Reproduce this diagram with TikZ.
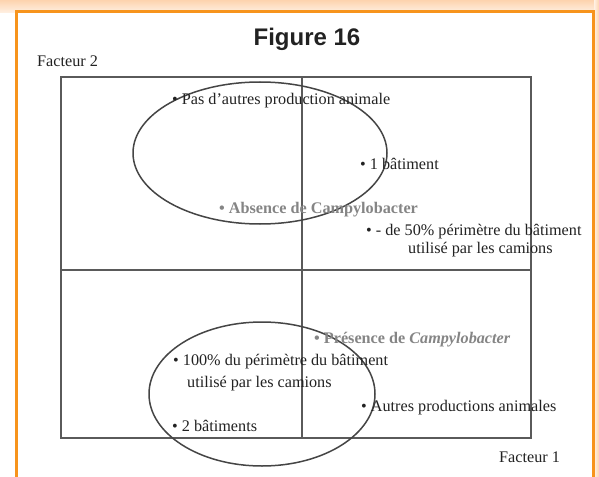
\documentclass[tikz,border=0pt]{standalone}
\usepackage{fontspec}
\setmainfont{Liberation Serif}
\newfontfamily\arialf{Liberation Sans}
\definecolor{frameorange}{HTML}{F7941D}
\definecolor{peach}{HTML}{FDD3AE}
\definecolor{peachlight}{HTML}{FFF1E4}
\definecolor{axisgray}{HTML}{5A5A5A}
\definecolor{ellgray}{HTML}{454545}
\definecolor{lblgray}{HTML}{858585}
\definecolor{txt}{HTML}{222222}
\usetikzlibrary{shapes.geometric}
\begin{document}
\begin{tikzpicture}[x=1pt,y=-1pt,
  lbl/.style={anchor=base west, inner sep=0pt, text=txt, font=\fontsize{16.2}{19}\selectfont},
  glbl/.style={anchor=base west, inner sep=0pt, text=lblgray, font=\fontsize{16.2}{19}\selectfont\bfseries},
  axisline/.style={draw=axisgray, line width=1.1pt},
  ell/.style={draw=ellgray, line width=1.5pt}]
\useasboundingbox (0,0) rectangle (599,476);
% background
\fill[white] (0,0) rectangle (599,476);
\shade[top color=peach, bottom color=peachlight] (0,0) rectangle (599,13);
\shade[left color=peachlight, right color=peach] (594,0) rectangle (599,476);
% orange frame
\fill[white] (16,12) rectangle (593,480);
\draw[frameorange, line width=3pt] (16,480) -- (16,12) -- (593,12) -- (593,480);
% title
\node[anchor=base, inner sep=0pt, text=txt, font=\arialf\bfseries\fontsize{24}{28}\selectfont] (title) at (307,46) {Figure 16};
% axes box
\draw[axisline] (61,77) rectangle (531,438);
\coordinate (vtop) at (302,77);
\coordinate (vbot) at (302,438);
\coordinate (hleft) at (61,270);
\coordinate (hright) at (531,270);
\draw[axisline] (vtop) -- (vbot);
\draw[axisline] (hleft) -- (hright);
% axis labels
\node[lbl] (f2) at (37,67) {Facteur 2};
\node[lbl] (f1) at (499,462) {Facteur 1};
% ellipses
\draw[ell] (260,153) ellipse [x radius=127, y radius=71];
\draw[ell] (262,394) ellipse [x radius=113, y radius=72];
% labels
\node[lbl] (pas) at (172,105) {• Pas d’autres production animale};
\node[lbl] (bat1) at (360,169) {• 1 bâtiment};
\node[glbl] (abs) at (219,213) {• Absence de Campylobacter};
\node[lbl] (moins) at (366,235) {• - de 50\% périmètre du bâtiment};
\node[lbl] (moins2) at (408,253) {utilisé par les camions};
\node[glbl] (pres) at (314,343) {• Présence de \textit{Campylobacter}};
\node[lbl] (cent) at (173,365) {• 100\% du périmètre du bâtiment};
\node[lbl] (cent2) at (187,387) {utilisé par les camions};
\node[lbl] (autres) at (361,411) {• Autres productions animales};
\node[lbl] (bat2) at (172,431) {• 2 bâtiments};
\end{tikzpicture}
\end{document}
